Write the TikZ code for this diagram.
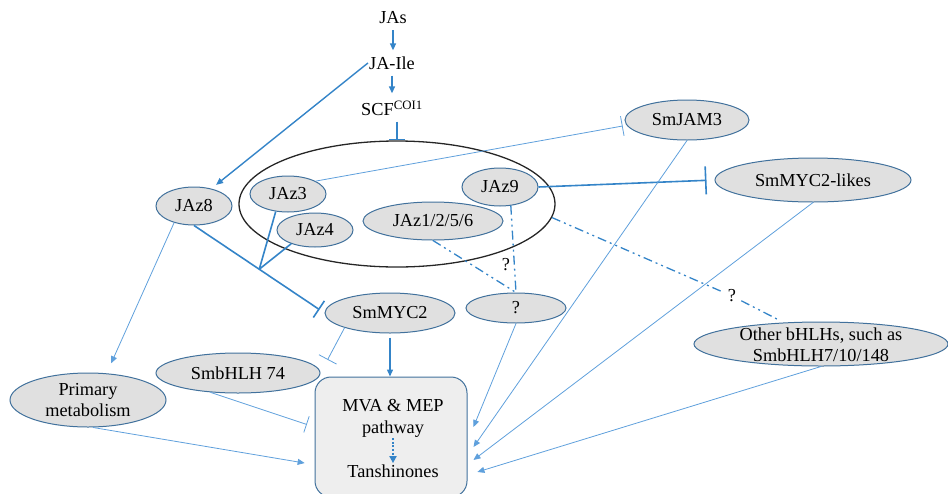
\documentclass[tikz,border=0pt]{standalone}
\usepackage{fontspec}
\setmainfont{Liberation Serif}
\usetikzlibrary{arrows.meta,shapes.geometric,calc}

\definecolor{linkblue}{RGB}{52,132,200}
\definecolor{lightlink}{RGB}{95,160,220}
\definecolor{rimblue}{RGB}{65,113,156}
\definecolor{nodefill}{RGB}{224,224,224}
\definecolor{boxfill}{RGB}{238,238,238}

\begin{document}
\begin{tikzpicture}[x=1pt,y=-1pt,
  every node/.style={font=\fontsize{18.3}{21}\selectfont},
  prot/.style={ellipse, draw=rimblue, fill=nodefill, line width=1pt, inner sep=0pt},
  plain/.style={inner sep=1pt, align=center},
  act/.style={draw=linkblue, line width=1.4pt, -{Triangle[length=7pt,width=6pt]}},
  actthin/.style={draw=lightlink, line width=0.8pt, -{Triangle[length=7pt,width=6pt]}},
  inh/.style={draw=linkblue, line width=1.6pt, -{Bar[width=#1]}},
  inhthin/.style={draw=lightlink, line width=0.8pt, -{Bar[width=#1]}},
  joinline/.style={draw=linkblue, line width=1.6pt},
  unsure/.style={draw=linkblue, line width=1.3pt, dash pattern=on 9pt off 4pt on 2pt off 4pt on 2pt off 4pt},
  dotarrow/.style={draw=linkblue, line width=2pt, dash pattern=on 2pt off 1.6pt, -{Triangle[length=7pt,width=7pt]}},
]
\useasboundingbox (0,0) rectangle (948,493);

% signalling cascade at the top
\node[plain] (jas)   at (393,18)  {JAs};
\node[plain] (jaile) at (392,63)  {JA-Ile};
\node[plain] (scf)   at (392,108) {SCF\textsuperscript{COI1}};

% JAZ complex
\node[ellipse, draw=black!85, line width=1.3pt, minimum width=316pt, minimum height=126pt, inner sep=0pt] (cplx) at (397,204) {};
\node[prot, minimum width=76pt,  minimum height=36pt] (jaz3) at (288,194) {JAz3};
\node[prot, minimum width=76pt,  minimum height=34pt] (jaz4) at (315,230) {JAz4};
\node[prot, minimum width=140pt, minimum height=38pt] (jaz1) at (433,221) {JAz1/2/5/6};
\node[prot, minimum width=76pt,  minimum height=38pt] (jaz9) at (500,187) {JAz9};

% other regulators
\node[prot, minimum width=76pt,  minimum height=38pt] (jaz8)   at (194,206) {JAz8};
\node[prot, minimum width=130pt, minimum height=40pt] (myc2)   at (390,313) {SmMYC2};
\node[prot, minimum width=100pt, minimum height=30pt] (unk)    at (516,308) {?};
\node[prot, minimum width=124pt, minimum height=40pt] (jam3)   at (687,120) {SmJAM3};
\node[prot, minimum width=196pt, minimum height=44pt] (mlike)  at (813,180) {SmMYC2-likes};
\node[prot, minimum width=254pt, minimum height=44pt] (others) at (821,344) {};
\node[plain] (others-t) at (821,345) {Other bHLHs, such as\\SmbHLH7/10/148};
\node[prot, minimum width=164pt, minimum height=40pt] (bhlh74) at (238,373) {SmbHLH 74};
\node[prot, minimum width=156pt, minimum height=54pt] (prim)   at (88,400) {};
\node[plain] (prim-t) at (88,400) {Primary\\metabolism};

% biosynthesis box
\node[draw=rimblue, fill=boxfill, rounded corners=16pt, line width=1pt, minimum width=152pt, minimum height=120pt, inner sep=0pt] (path) at (391,437) {};
\node[plain, anchor=base] (mva) at (393,411) {MVA \& MEP};
\node[plain, anchor=base] (pw)  at (393,433) {pathway};
\node[plain, anchor=base] (tan) at (393,477) {Tanshinones};
\draw[dotarrow] (pw.south) -- (tan.north);

% question marks on uncertain links
\node[plain] (q1) at (506,265) {?};
\node[plain, inner xsep=5pt] (q2) at (732,296) {?};

% cascade
\draw[act, shorten <=5pt, shorten >=5pt] (jas.south) -- (jas.south |- jaile.north);
\draw[act, shorten <=5pt, shorten >=6pt] (jaile.south) -- (jaile.south |- scf.north);
\draw[inh=16pt, shorten <=5pt] (scf.south -| cplx.north) -- (cplx.north);
\draw[act, shorten >=6pt] (jaile.west) -- (jaz8.45);

% repression links
\draw[inhthin=20pt, shorten >=4pt] (jaz3.25) -- (jam3.185);
\draw[inh=28pt, shorten >=8pt] (jaz9.east) -- (mlike.west);
\draw[inh=20pt, shorten >=6pt] (jaz8.south) -- (myc2.west);
\coordinate (jn) at ($(jaz8.south)!0.5!(myc2.west)$);
\draw[joinline] (jaz3.235) -- (jn);
\draw[joinline] (jaz4.210) -- (jn);

% uncertain links
\draw[unsure] (jaz1.south) -- (unk.north);
\draw[unsure] (jaz9.300) -- (unk.north);
\draw[unsure] (cplx.-5) -- (q2);
\draw[unsure, shorten >=4pt] (q2) -- (others.150);

% links to metabolism
\draw[actthin, shorten >=11pt] (jaz8.220) -- (prim.55);
\draw[inhthin=20pt, shorten >=15pt] (myc2.198) -- (bhlh74.east);
\draw[act, shorten <=4pt] (myc2.south) -- (myc2.south |- path.north);
\draw[inhthin=17pt, shorten >=8pt] (bhlh74.215) -- ([yshift=10pt]path.west);
\draw[actthin, shorten >=10pt] (prim.-80) -- ([yshift=-27.7pt]path.west);
\draw[actthin, shorten >=15.7pt] (unk.south) -- ([yshift=-4.5pt]path.east);
\draw[actthin, shorten >=10.5pt] (jam3.south) -- ([yshift=-18.6pt]path.east);
\draw[actthin, shorten >=7.5pt] (mlike.south) -- ([yshift=-27.5pt]path.east);
\draw[actthin, shorten >=10.4pt] (others.south) -- ([yshift=-38pt]path.east);
\end{tikzpicture}
\end{document}
